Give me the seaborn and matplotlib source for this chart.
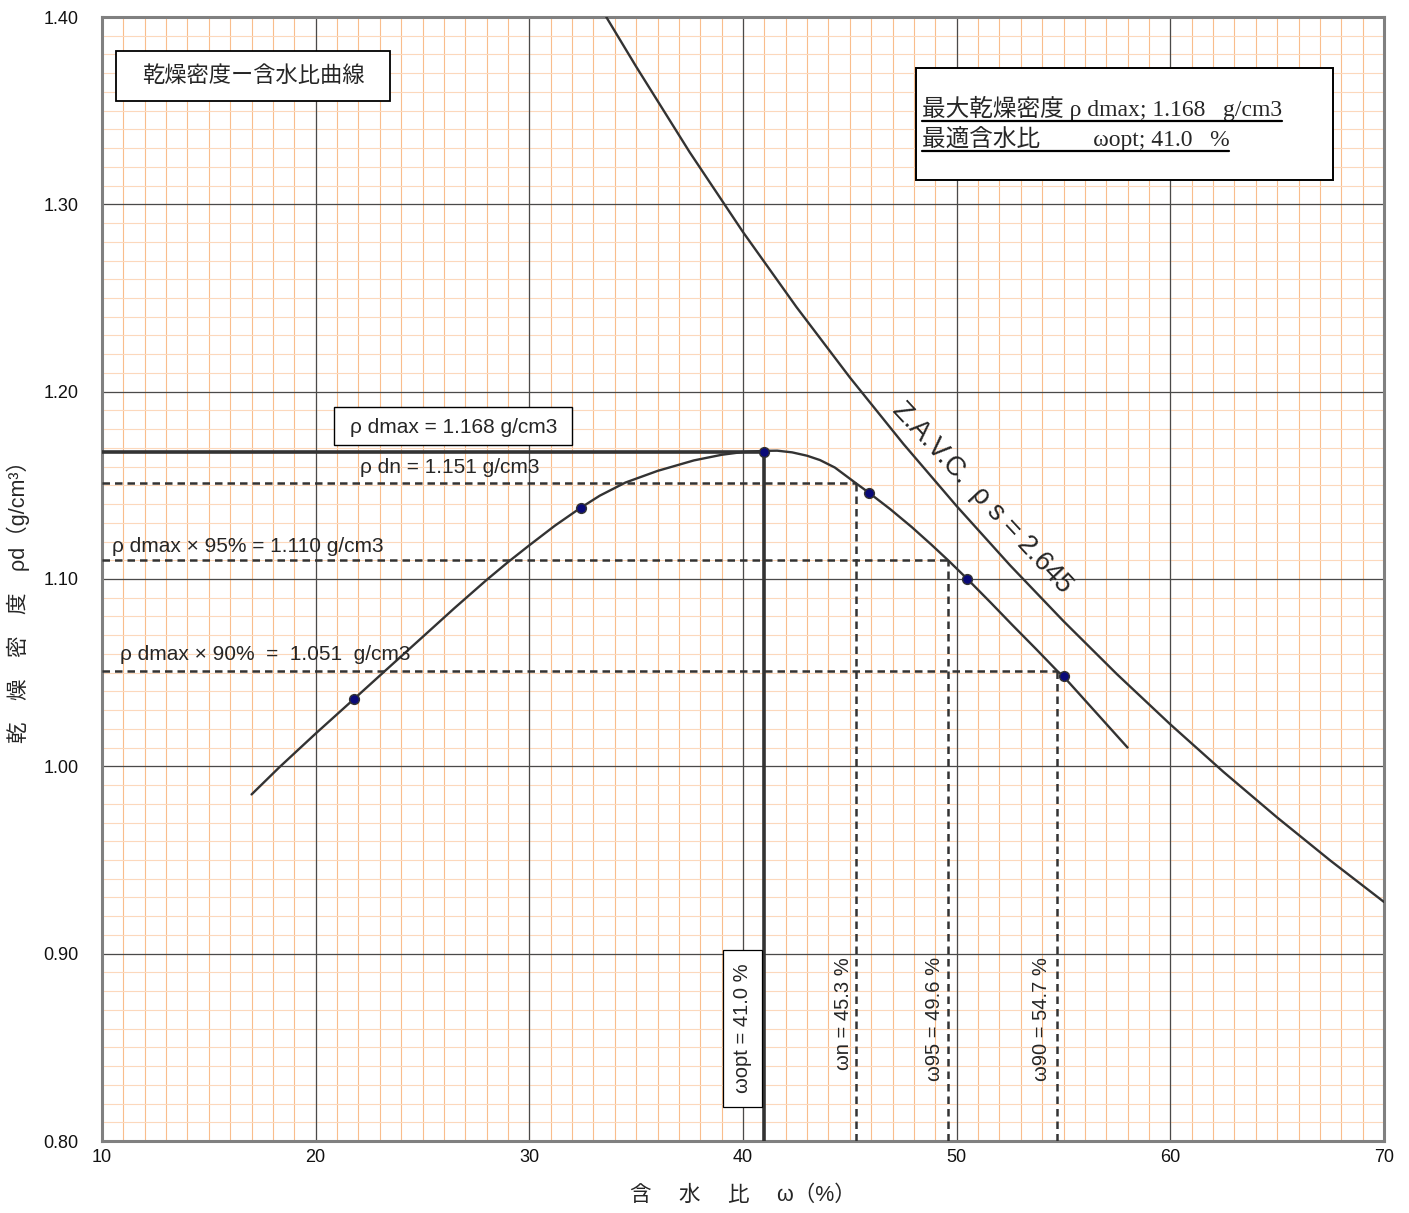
import matplotlib
matplotlib.use('Agg')
import matplotlib.pyplot as plt
from matplotlib.patches import Rectangle
import seaborn as sns
import numpy as np

# test results (water content %, dry density g/cm3)
w_test = [21.8, 32.4, 41.0, 45.9, 50.5, 55.0]
rho_test = [1.036, 1.138, 1.168, 1.146, 1.100, 1.048]

# compaction curve
w_curve = [17.0, 18.3, 20.0, 21.8, 23.3, 25.0, 26.5, 28.0, 29.0, 30.0, 31.2, 32.4,
           33.3, 34.5, 36.0, 37.7, 39.0, 40.0, 41.0, 41.6, 42.3, 43.0, 43.6, 44.3,
           45.3, 45.9, 46.9, 47.9, 48.8, 49.6, 50.5, 51.6, 52.6, 53.7, 54.7, 55.0,
           56.5, 58.0]
rho_curve = [0.985, 0.9995, 1.0175, 1.036, 1.0515, 1.069, 1.0845, 1.0995, 1.109, 1.118, 1.1285, 1.138,
             1.1445, 1.1515, 1.1577, 1.1633, 1.1663, 1.1678, 1.1684, 1.1685, 1.1676, 1.1658, 1.1635, 1.1595,
             1.151, 1.146, 1.1372, 1.1277, 1.1185, 1.110, 1.100, 1.0873, 1.0755, 1.0628, 1.051, 1.048,
             1.029, 1.010]

# zero air void curve (rho_s = 2.645)
w_zavc = [33.6, 35.0, 37.5, 40.0, 42.5, 45.0, 47.5, 50.0, 52.5, 55.0, 57.5, 60.0,
          62.5, 65.0, 67.5, 70.0]
rho_zavc = [1.400, 1.3735, 1.3279, 1.2852, 1.2452, 1.2076, 1.1722, 1.1389, 1.1073, 1.0775,
            1.0492, 1.0224, 0.9969, 0.9727, 0.9496, 0.9276]

rho_dmax = 1.168
w_opt = 41.0
level_rho = [1.151, 1.110, 1.051]
level_w = [45.3, 49.6, 54.7]
level_text = ["ρ dn = 1.151 g/cm3",
              "ρ dmax × 95% = 1.110 g/cm3",
              "ρ dmax × 90%  =  1.051  g/cm3"]
w_text = ["ωn = 45.3 %", "ω95 = 49.6 %", "ω90 = 54.7 %"]

sns.set_theme(style='white')
plt.rcParams['font.family'] = ['Liberation Sans', 'Noto Sans CJK JP', 'DejaVu Sans']

fig, ax = plt.subplots(figsize=(14.09, 12.13), dpi=100)
fig.subplots_adjust(left=102/1409, right=1384/1409, bottom=1-1141/1213, top=1-17/1213)

ax.set_xlim(10, 70)
ax.set_ylim(0.80, 1.40)
ax.set_xticks(np.arange(10, 71, 10))
ax.set_yticks(np.arange(0.80, 1.401, 0.10))
ax.set_yticklabels(['%.2f' % v for v in np.arange(0.80, 1.401, 0.10)])
ax.tick_params(which='both', length=0, labelsize=13, labelcolor='#111111')
ax.tick_params(axis='y', pad=17)
ax.tick_params(axis='x', pad=6)
ax.grid(True, which='major', color='#4a4a4a', lw=0.9, zorder=1)
ax.set_axisbelow(True)

# section paper: orange 1 % / 0.01 g/cm3 lines
ax.vlines(np.arange(11, 70, 1), 0.80, 1.40, colors='#f9bd8c', lw=0.8, zorder=0.5)
ax.hlines(np.arange(0.81, 1.40, 0.01), 10, 70, colors='#fcd8bc', lw=0.8, zorder=0.5)

for s in ax.spines.values():
    s.set_color('#808080')
    s.set_linewidth(2.2)

line_col = '#333333'

# max dry density / optimum water content
ax.plot([10, w_opt], [rho_dmax, rho_dmax], color=line_col, lw=2.6, zorder=3)
ax.plot([w_opt, w_opt], [0.80, rho_dmax], color=line_col, lw=2.6, zorder=3)

# reference levels
for r, w in zip(level_rho, level_w):
    ax.plot([10, w], [r, r], color=line_col, lw=1.8, ls=(0, (3, 2)), zorder=3)
    ax.plot([w, w], [0.80, r], color=line_col, lw=1.8, ls=(0, (3, 2)), zorder=3)

sns.lineplot(x=w_curve, y=rho_curve, sort=False, estimator=None, color=line_col, lw=1.7, ax=ax, zorder=4)
sns.lineplot(x=w_zavc, y=rho_zavc, sort=False, estimator=None, color=line_col, lw=1.7, ax=ax, zorder=4)
sns.scatterplot(x=w_test, y=rho_test, s=50, color='#0a0a78', edgecolor='#333333', linewidth=1.0, ax=ax, zorder=5)

# title box
ax.add_patch(Rectangle((10.65, 1.3552), 12.83, 0.0266, facecolor='white', edgecolor='black', lw=1.3, zorder=6))
ax.text(17.07, 1.3685, "乾燥密度ー含水比曲線", fontsize=16, ha='center', va='center', zorder=7)

# result box
ax.add_patch(Rectangle((48.09, 1.313), 19.51, 0.0598, facecolor='white', edgecolor='black', lw=1.4, zorder=6))
serif = ['Liberation Serif', 'Noto Sans CJK JP']
t1 = ax.text(48.37, 1.3471, "最大乾燥密度 ρ dmax; 1.168   g/cm3", fontsize=17, family=serif,
             ha='left', va='baseline', zorder=7)
t2 = ax.text(48.37, 1.3311, "最適含水比　　 ωopt; 41.0   %", fontsize=17, family=serif,
             ha='left', va='baseline', zorder=7)

# rho dmax label
ax.add_patch(Rectangle((20.87, 1.1715), 11.11, 0.0201, facecolor='white', edgecolor='black', lw=1.0, zorder=6))
ax.text(26.45, 1.1811, "ρ dmax = 1.168 g/cm3", fontsize=15, ha='center', va='center', zorder=7)

# level labels
level_pos = [(22.07, 1.1597), (10.45, 1.1172), (10.84, 1.0599)]
for (x, y), s in zip(level_pos, level_text):
    ax.text(x, y, s, fontsize=15, ha='left', va='center', zorder=7)

# vertical labels
ax.add_patch(Rectangle((39.07, 0.8183), 1.80, 0.0836, facecolor='white', edgecolor='black', lw=0.9, zorder=6))
ax.text(39.97, 0.8601, "ωopt = 41.0 %", fontsize=14.5, rotation=90, ha='center', va='center', zorder=7)
for x, s in zip([44.72, 48.98, 53.97], w_text):
    ax.text(x, 0.8981, s, fontsize=14.5, rotation=90, ha='center', va='top', zorder=7)

# ZAVC label
ax.text(51.2, 1.1432, "Z.A.V.C.  ρ s = 2.645", fontsize=19.5, rotation=-47, rotation_mode='anchor',
        ha='center', va='center', zorder=7)

ax.set_xlabel("含　 水　 比　 ω（%）", fontsize=15.5)
ax.set_ylabel("乾　燥　密　度　ρd（g/cm³）", fontsize=15.5)
ax.xaxis.set_label_coords(0.5, -0.039)
ax.yaxis.set_label_coords(-0.056, 0.484)

# underline the result text
fig.canvas.draw()
renderer = fig.canvas.get_renderer()
inv = ax.transData.inverted()
for t in [t1, t2]:
    bb = t.get_window_extent(renderer)
    (x0, y0), (x1, _) = inv.transform([[bb.x0, bb.y0], [bb.x1, bb.y1]])
    ax.plot([x0, x1], [y0, y0], color='black', lw=1.6, zorder=7)

fig.savefig('out.png', dpi=100)
